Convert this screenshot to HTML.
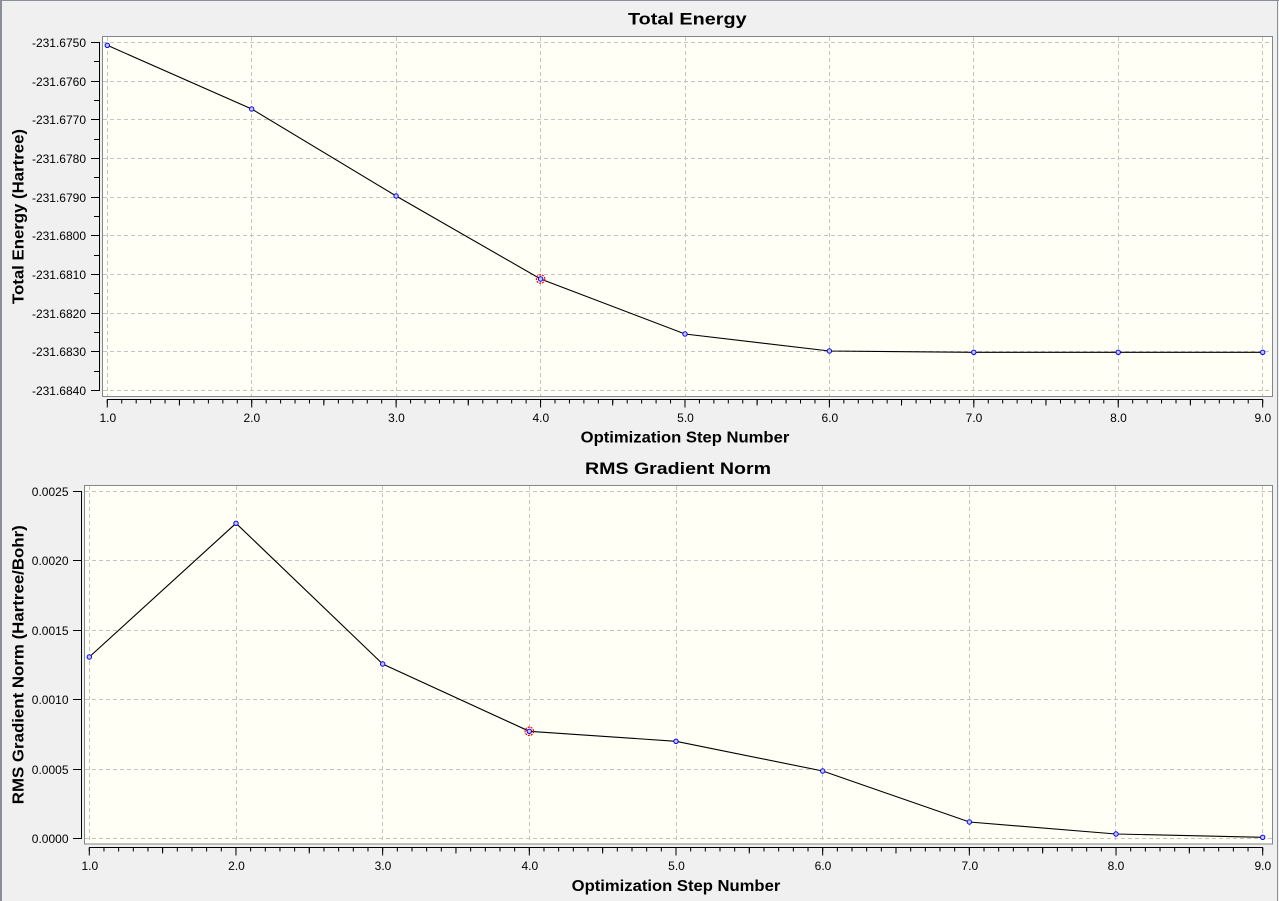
<!DOCTYPE html>
<html><head><meta charset="utf-8"><style>
html,body{margin:0;padding:0;background:#f0f0f0;}
svg{display:block;}
text{font-family:"Liberation Sans",Arial,sans-serif;fill:#000;}
.tl{font-size:12px;}
.ti{font-size:17px;font-weight:bold;}
.at{font-size:15.5px;font-weight:bold;}
.g{stroke:#c4c4c4;stroke-width:1;stroke-dasharray:4 3;fill:none;}
.ax{stroke:#000;stroke-width:1;fill:none;}
.mk{fill:#c8c8f0;stroke:#0000ff;stroke-width:1;}
</style></head><body>
<svg width="1279" height="901" viewBox="0 0 1279 901" xmlns="http://www.w3.org/2000/svg">
<rect x="0" y="0" width="1279" height="901" fill="#f0f0f0"/>
<rect x="0" y="0" width="2" height="901" fill="#8a8e96"/>
<rect x="0" y="0" width="1279" height="1" fill="#8a8e96"/>
<rect x="1277" y="0" width="1" height="901" fill="#8a8e96"/>

<!-- ===== TOP CHART ===== -->
<rect x="102.5" y="36.5" width="1170" height="360" fill="#fffff6" stroke="#80868e" stroke-width="1"/>
<g class="g">
<line x1="103" y1="42.5" x2="1272" y2="42.5"/>
<line x1="103" y1="81.5" x2="1272" y2="81.5"/>
<line x1="103" y1="119.5" x2="1272" y2="119.5"/>
<line x1="103" y1="158.5" x2="1272" y2="158.5"/>
<line x1="103" y1="197.5" x2="1272" y2="197.5"/>
<line x1="103" y1="235.5" x2="1272" y2="235.5"/>
<line x1="103" y1="274.5" x2="1272" y2="274.5"/>
<line x1="103" y1="313.5" x2="1272" y2="313.5"/>
<line x1="103" y1="351.5" x2="1272" y2="351.5"/>
<line x1="103" y1="390.5" x2="1272" y2="390.5"/>
<line x1="107.5" y1="37" x2="107.5" y2="396"/>
<line x1="251.5" y1="37" x2="251.5" y2="396"/>
<line x1="396.5" y1="37" x2="396.5" y2="396"/>
<line x1="540.5" y1="37" x2="540.5" y2="396"/>
<line x1="685.5" y1="37" x2="685.5" y2="396"/>
<line x1="829.5" y1="37" x2="829.5" y2="396"/>
<line x1="973.5" y1="37" x2="973.5" y2="396"/>
<line x1="1118.5" y1="37" x2="1118.5" y2="396"/>
<line x1="1262.5" y1="37" x2="1262.5" y2="396"/>
</g>
<polyline fill="none" stroke="#000" stroke-width="1.1" points="107.3,45.3 251.7,109 396.1,196 540.6,279 685,334 829.4,351 973.8,352.3 1118.2,352.3 1262.7,352.3"/>
<g class="mk">
<circle cx="107.3" cy="45.3" r="2.2"/>
<circle cx="251.7" cy="109" r="2.2"/>
<circle cx="396.1" cy="196" r="2.2"/>
<circle cx="540.6" cy="279" r="2.2"/>
<circle cx="685" cy="334" r="2.2"/>
<circle cx="829.4" cy="351" r="2.2"/>
<circle cx="973.8" cy="352.3" r="2.2"/>
<circle cx="1118.2" cy="352.3" r="2.2"/>
<circle cx="1262.7" cy="352.3" r="2.2"/>
</g>
<circle cx="540.6" cy="279" r="4.2" fill="none" stroke="#ff0000" stroke-width="1.2" stroke-dasharray="2 1"/>

<!-- top axes -->
<line class="ax" x1="99.5" y1="42" x2="99.5" y2="391"/>
<line x1="91" y1="0" x2="100" y2="0" stroke="#000" stroke-width="0"/>
<path class="ax" d="M91 42.5H99M91 81.5H99M91 119.5H99M91 158.5H99M91 197.5H99M91 235.5H99M91 274.5H99M91 313.5H99M91 351.5H99M91 390.5H99
M94 61.5H99M94 100.5H99M94 139.5H99M94 177.5H99M94 216.5H99M94 255.5H99M94 293.5H99M94 332.5H99M94 371.5H99"/>
<line class="ax" x1="107" y1="399.5" x2="1263" y2="399.5"/>
<line x1="106.8" y1="401.5" x2="1264" y2="401.5" stroke="#000" stroke-width="4" stroke-dasharray="1 13.442"/>
<line x1="178.9" y1="402.5" x2="1264" y2="402.5" stroke="#000" stroke-width="6" stroke-dasharray="1 143.42"/>
<line x1="106.8" y1="403.5" x2="1264" y2="403.5" stroke="#000" stroke-width="8" stroke-dasharray="1 143.42"/>

<g class="tl" text-anchor="end">
<text x="86" y="47">-231.6750</text>
<text x="86" y="86">-231.6760</text>
<text x="86" y="124">-231.6770</text>
<text x="86" y="163">-231.6780</text>
<text x="86" y="202">-231.6790</text>
<text x="86" y="240">-231.6800</text>
<text x="86" y="279">-231.6810</text>
<text x="86" y="318">-231.6820</text>
<text x="86" y="356">-231.6830</text>
<text x="86" y="395">-231.6840</text>
</g>
<g class="tl" text-anchor="middle">
<text x="107.8" y="422">1.0</text>
<text x="251.8" y="422">2.0</text>
<text x="396.5" y="422">3.0</text>
<text x="540.8" y="422">4.0</text>
<text x="685.5" y="422">5.0</text>
<text x="829.8" y="422">6.0</text>
<text x="974" y="422">7.0</text>
<text x="1118.5" y="422">8.0</text>
<text x="1262.8" y="422">9.0</text>
</g>
<text class="ti" x="687.3" y="24.3" text-anchor="middle" textLength="118.6" lengthAdjust="spacingAndGlyphs">Total Energy</text>
<text class="at" x="685" y="442.7" text-anchor="middle" textLength="208.6" lengthAdjust="spacingAndGlyphs">Optimization Step Number</text>
<text class="at" transform="translate(23.5,216.5) rotate(-90)" x="0" y="0" text-anchor="middle" textLength="175" lengthAdjust="spacingAndGlyphs">Total Energy (Hartree)</text>

<!-- ===== BOTTOM CHART ===== -->
<rect x="84.5" y="485.5" width="1188" height="358.5" fill="#fffff6" stroke="#80868e" stroke-width="1"/>
<g class="g">
<line x1="85" y1="491.5" x2="1272" y2="491.5"/>
<line x1="85" y1="560.5" x2="1272" y2="560.5"/>
<line x1="85" y1="630.5" x2="1272" y2="630.5"/>
<line x1="85" y1="699.5" x2="1272" y2="699.5"/>
<line x1="85" y1="769.5" x2="1272" y2="769.5"/>
<line x1="85" y1="838.5" x2="1272" y2="838.5"/>
<line x1="89.5" y1="486" x2="89.5" y2="844"/>
<line x1="236.5" y1="486" x2="236.5" y2="844"/>
<line x1="382.5" y1="486" x2="382.5" y2="844"/>
<line x1="529.5" y1="486" x2="529.5" y2="844"/>
<line x1="676.5" y1="486" x2="676.5" y2="844"/>
<line x1="822.5" y1="486" x2="822.5" y2="844"/>
<line x1="969.5" y1="486" x2="969.5" y2="844"/>
<line x1="1115.5" y1="486" x2="1115.5" y2="844"/>
<line x1="1262.5" y1="486" x2="1262.5" y2="844"/>
</g>
<polyline fill="none" stroke="#000" stroke-width="1.1" points="89.3,657 236,523.3 382.7,664 529.3,731.3 676,741.3 822.7,771 969.4,822 1116,834 1262.7,837.3"/>
<g class="mk">
<circle cx="89.3" cy="657" r="2.2"/>
<circle cx="236" cy="523.3" r="2.2"/>
<circle cx="382.7" cy="664" r="2.2"/>
<circle cx="529.3" cy="731.3" r="2.2"/>
<circle cx="676" cy="741.3" r="2.2"/>
<circle cx="822.7" cy="771" r="2.2"/>
<circle cx="969.4" cy="822" r="2.2"/>
<circle cx="1116" cy="834" r="2.2"/>
<circle cx="1262.7" cy="837.3" r="2.2"/>
</g>
<circle cx="529.3" cy="731.3" r="4.2" fill="none" stroke="#ff0000" stroke-width="1.2" stroke-dasharray="2 1"/>

<!-- bottom axes -->
<line class="ax" x1="81.5" y1="491" x2="81.5" y2="839"/>
<path class="ax" d="M73 491.5H81M73 560.5H81M73 630.5H81M73 699.5H81M73 769.5H81M73 838.5H81"/>
<line class="ax" x1="89" y1="847.5" x2="1263" y2="847.5"/>
<line x1="88.8" y1="849.5" x2="1264" y2="849.5" stroke="#000" stroke-width="4" stroke-dasharray="1 13.6675"/>
<line x1="162.1" y1="850.5" x2="1264" y2="850.5" stroke="#000" stroke-width="6" stroke-dasharray="1 145.675"/>
<line x1="88.8" y1="851.5" x2="1264" y2="851.5" stroke="#000" stroke-width="8" stroke-dasharray="1 145.675"/>

<g class="tl" text-anchor="end">
<text x="68.5" y="496">0.0025</text>
<text x="68.5" y="565">0.0020</text>
<text x="68.5" y="635">0.0015</text>
<text x="68.5" y="704">0.0010</text>
<text x="68.5" y="774">0.0005</text>
<text x="68.5" y="843">0.0000</text>
</g>
<g class="tl" text-anchor="middle">
<text x="89.8" y="870">1.0</text>
<text x="236.5" y="870">2.0</text>
<text x="383" y="870">3.0</text>
<text x="529.8" y="870">4.0</text>
<text x="676.5" y="870">5.0</text>
<text x="823" y="870">6.0</text>
<text x="969.8" y="870">7.0</text>
<text x="1116" y="870">8.0</text>
<text x="1262.8" y="870">9.0</text>
</g>
<text class="ti" x="678" y="474" text-anchor="middle" textLength="186" lengthAdjust="spacingAndGlyphs">RMS Gradient Norm</text>
<text class="at" x="676" y="891" text-anchor="middle" textLength="208.6" lengthAdjust="spacingAndGlyphs">Optimization Step Number</text>
<text class="at" transform="translate(23.5,664.7) rotate(-90)" x="0" y="0" text-anchor="middle" textLength="279" lengthAdjust="spacingAndGlyphs">RMS Gradient Norm (Hartree/Bohr)</text>
</svg>
</body></html>
